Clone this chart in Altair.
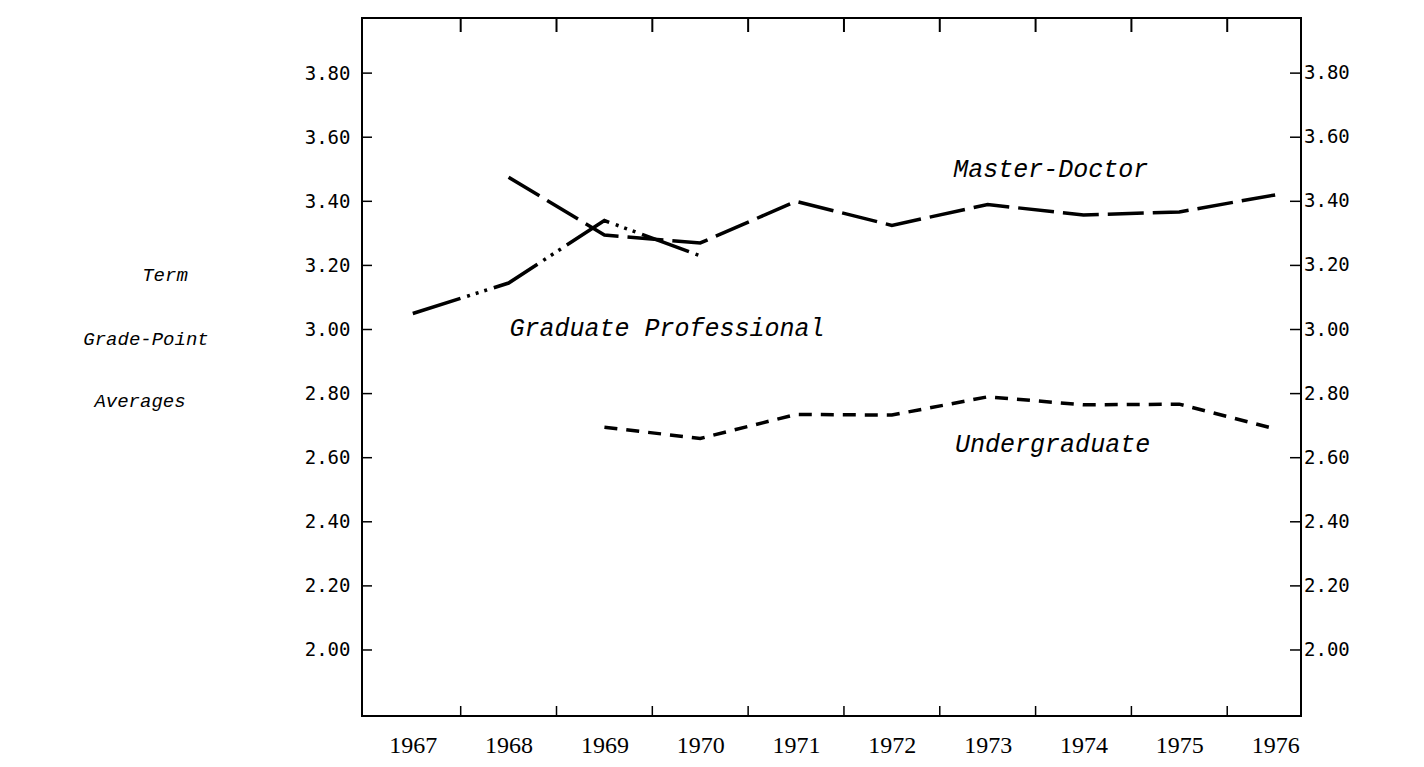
import altair as alt
import pandas as pd

# ---- data ----
years = [1967, 1968, 1969, 1970, 1971, 1972, 1973, 1974, 1975, 1976]

gp_years = [1967, 1968, 1969, 1970]
gp_vals = [3.05, 3.145, 3.34, 3.23]

md_years = [1968, 1969, 1970, 1971, 1972, 1973, 1974, 1975, 1976]
md_vals = [3.475, 3.295, 3.27, 3.40, 3.325, 3.39, 3.357, 3.367, 3.42]

ug_years = [1969, 1970, 1971, 1972, 1973, 1974, 1975, 1976]
ug_vals = [2.695, 2.66, 2.735, 2.733, 2.79, 2.765, 2.767, 2.69]

y_ticks = [2.00, 2.20, 2.40, 2.60, 2.80, 3.00, 3.20, 3.40, 3.60, 3.80]
x_bounds = [1967.5, 1968.5, 1969.5, 1970.5, 1971.5, 1972.5, 1973.5, 1974.5, 1975.5]

title_lines = ["Term", "Grade-Point", "Averages"]

W, H = 939, 698
MONO = "Liberation Mono"
TICKFONT = "DejaVu Sans Mono"

xs = alt.Scale(domain=[1966.47, 1976.27], nice=False, zero=False)
ys = alt.Scale(domain=[1.794, 3.972], nice=False, zero=False)

gp = pd.DataFrame({"year": gp_years, "gpa": gp_vals})
md = pd.DataFrame({"year": md_years, "gpa": md_vals})
ug = pd.DataFrame({"year": ug_years, "gpa": ug_vals})
yt = pd.DataFrame({"v": y_ticks})
xb = pd.DataFrame({"b": x_bounds})

x_axis = alt.Axis(values=years, format="d", ticks=False, domain=False, grid=False,
                  labelFont="Liberation Serif", labelFontSize=24, labelColor="black",
                  labelPadding=17, title=None)
y_axis = alt.Axis(values=y_ticks, format=".2f", ticks=False, domain=False, grid=False,
                  labelFont=TICKFONT, labelFontSize=19, labelColor="black",
                  labelPadding=12, title=None)

def line(df, dash):
    return alt.Chart(df).mark_line(color="black", strokeWidth=3.5, strokeDash=dash).encode(
        x=alt.X("year:Q", scale=xs, axis=x_axis),
        y=alt.Y("gpa:Q", scale=ys, axis=y_axis),
    )

l_gp = line(gp, [50, 7, 3, 6, 3, 6, 3, 7])
l_md = line(md, [36, 9])
l_ug = line(ug, [13, 9])

# inward ticks
left_ticks = alt.Chart(yt).mark_rule(color="black", strokeWidth=1.5).encode(
    y=alt.Y("v:Q", scale=ys), x=alt.value(0), x2=alt.value(10))
right_ticks = alt.Chart(yt).mark_rule(color="black", strokeWidth=1.5).encode(
    y=alt.Y("v:Q", scale=ys), x=alt.value(W - 11), x2=alt.value(W))
top_ticks = alt.Chart(xb).mark_rule(color="black", strokeWidth=2).encode(
    x=alt.X("b:Q", scale=xs), y=alt.value(0), y2=alt.value(14))
bot_ticks = alt.Chart(xb).mark_rule(color="black", strokeWidth=1.5).encode(
    x=alt.X("b:Q", scale=xs), y=alt.value(H - 10), y2=alt.value(H))

right_labels = alt.Chart(yt).mark_text(font=TICKFONT, fontSize=19, align="left",
                                       baseline="middle", color="black", dx=3).encode(
    y=alt.Y("v:Q", scale=ys), x=alt.value(W), text=alt.Text("v:Q", format=".2f"))

def note(txt, xv, yv):
    return alt.Chart().mark_text(text=txt, font=MONO, fontStyle="italic", fontSize=25,
                                 align="left", baseline="middle", color="black").encode(
        x=alt.datum(xv, scale=xs), y=alt.datum(yv, scale=ys))

n_md = note("Master-Doctor", 1972.64, 3.50)
n_gp = note("Graduate Professional", 1968.01, 3.005)
n_ug = note("Undergraduate", 1972.66, 2.643)

def side(txt, cx, cy):
    return alt.Chart().mark_text(text=txt, font=MONO, fontStyle="italic", fontSize=19,
                                 align="center", baseline="middle", color="black").encode(
        x=alt.value(cx), y=alt.value(cy))

t1 = side(title_lines[0], 165 - 362, 275 - 18)
t2 = side(title_lines[1], 146 - 362, 339 - 18)
t3 = side(title_lines[2], 140 - 362, 401 - 18)

chart = alt.layer(
    l_gp, l_md, l_ug, left_ticks, right_ticks, top_ticks, bot_ticks, right_labels,
    n_md, n_gp, n_ug, t1, t2, t3
).properties(
    width=W, height=H,
    autosize=alt.AutoSizeParams(type="none"),
    padding={"left": 354, "top": 10, "right": 100, "bottom": 40},
    background="white",
).configure_view(stroke="black", strokeWidth=2)

chart.save("out.html", embed_options={"renderer": "svg", "actions": False})
